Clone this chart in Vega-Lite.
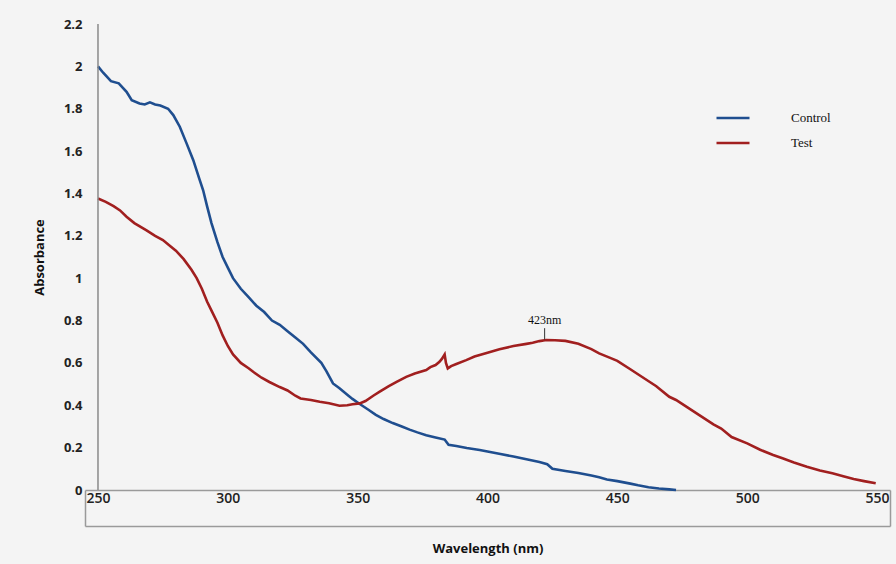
{
  "$schema": "https://vega.github.io/schema/vega-lite/v6.json",
  "width": 805,
  "height": 466,
  "autosize": {"type": "none"},
  "padding": {"left": 85, "top": 24, "right": 6, "bottom": 74},
  "background": "#f4f4f4",
  "config": {"view": {"stroke": null}},
  "datasets": {
    "curves": [
      {"wl": 250, "a": 2.0, "s": "Control"},
      {"wl": 252, "a": 1.97, "s": "Control"},
      {"wl": 255, "a": 1.93, "s": "Control"},
      {"wl": 258, "a": 1.92, "s": "Control"},
      {"wl": 261, "a": 1.88, "s": "Control"},
      {"wl": 263, "a": 1.84, "s": "Control"},
      {"wl": 266, "a": 1.825, "s": "Control"},
      {"wl": 268, "a": 1.82, "s": "Control"},
      {"wl": 270, "a": 1.83, "s": "Control"},
      {"wl": 272, "a": 1.82, "s": "Control"},
      {"wl": 274, "a": 1.815, "s": "Control"},
      {"wl": 277, "a": 1.8, "s": "Control"},
      {"wl": 279, "a": 1.77, "s": "Control"},
      {"wl": 281.5, "a": 1.715, "s": "Control"},
      {"wl": 284, "a": 1.64, "s": "Control"},
      {"wl": 286.7, "a": 1.557, "s": "Control"},
      {"wl": 289, "a": 1.47, "s": "Control"},
      {"wl": 290.5, "a": 1.415, "s": "Control"},
      {"wl": 292, "a": 1.34, "s": "Control"},
      {"wl": 293.7, "a": 1.26, "s": "Control"},
      {"wl": 296, "a": 1.17, "s": "Control"},
      {"wl": 298, "a": 1.1, "s": "Control"},
      {"wl": 300, "a": 1.05, "s": "Control"},
      {"wl": 302, "a": 1.0, "s": "Control"},
      {"wl": 305, "a": 0.95, "s": "Control"},
      {"wl": 308, "a": 0.91, "s": "Control"},
      {"wl": 311, "a": 0.87, "s": "Control"},
      {"wl": 314, "a": 0.84, "s": "Control"},
      {"wl": 317, "a": 0.8, "s": "Control"},
      {"wl": 320, "a": 0.78, "s": "Control"},
      {"wl": 323, "a": 0.75, "s": "Control"},
      {"wl": 326, "a": 0.72, "s": "Control"},
      {"wl": 329, "a": 0.69, "s": "Control"},
      {"wl": 332, "a": 0.65, "s": "Control"},
      {"wl": 336, "a": 0.6, "s": "Control"},
      {"wl": 338, "a": 0.56, "s": "Control"},
      {"wl": 340.5, "a": 0.503, "s": "Control"},
      {"wl": 343, "a": 0.48, "s": "Control"},
      {"wl": 346, "a": 0.45, "s": "Control"},
      {"wl": 348, "a": 0.43, "s": "Control"},
      {"wl": 350.8, "a": 0.406, "s": "Control"},
      {"wl": 354, "a": 0.38, "s": "Control"},
      {"wl": 357, "a": 0.355, "s": "Control"},
      {"wl": 360, "a": 0.335, "s": "Control"},
      {"wl": 363.5, "a": 0.316, "s": "Control"},
      {"wl": 367, "a": 0.3, "s": "Control"},
      {"wl": 370, "a": 0.285, "s": "Control"},
      {"wl": 373, "a": 0.272, "s": "Control"},
      {"wl": 376.4, "a": 0.259, "s": "Control"},
      {"wl": 380, "a": 0.248, "s": "Control"},
      {"wl": 383.5, "a": 0.238, "s": "Control"},
      {"wl": 385, "a": 0.213, "s": "Control"},
      {"wl": 388, "a": 0.208, "s": "Control"},
      {"wl": 392, "a": 0.198, "s": "Control"},
      {"wl": 397, "a": 0.189, "s": "Control"},
      {"wl": 400, "a": 0.182, "s": "Control"},
      {"wl": 405, "a": 0.17, "s": "Control"},
      {"wl": 410, "a": 0.158, "s": "Control"},
      {"wl": 415, "a": 0.145, "s": "Control"},
      {"wl": 420, "a": 0.132, "s": "Control"},
      {"wl": 423, "a": 0.122, "s": "Control"},
      {"wl": 425, "a": 0.1, "s": "Control"},
      {"wl": 430, "a": 0.09, "s": "Control"},
      {"wl": 435, "a": 0.08, "s": "Control"},
      {"wl": 440, "a": 0.068, "s": "Control"},
      {"wl": 443, "a": 0.06, "s": "Control"},
      {"wl": 446, "a": 0.05, "s": "Control"},
      {"wl": 450, "a": 0.042, "s": "Control"},
      {"wl": 455, "a": 0.03, "s": "Control"},
      {"wl": 458, "a": 0.022, "s": "Control"},
      {"wl": 462, "a": 0.013, "s": "Control"},
      {"wl": 466, "a": 0.007, "s": "Control"},
      {"wl": 470, "a": 0.003, "s": "Control"},
      {"wl": 472.6, "a": 0.0, "s": "Control"},
      {"wl": 250, "a": 1.376, "s": "Test"},
      {"wl": 253, "a": 1.36, "s": "Test"},
      {"wl": 256, "a": 1.34, "s": "Test"},
      {"wl": 258.5, "a": 1.32, "s": "Test"},
      {"wl": 261, "a": 1.29, "s": "Test"},
      {"wl": 264, "a": 1.26, "s": "Test"},
      {"wl": 268.7, "a": 1.226, "s": "Test"},
      {"wl": 272, "a": 1.2, "s": "Test"},
      {"wl": 275, "a": 1.18, "s": "Test"},
      {"wl": 278, "a": 1.15, "s": "Test"},
      {"wl": 280, "a": 1.13, "s": "Test"},
      {"wl": 283, "a": 1.09, "s": "Test"},
      {"wl": 286, "a": 1.04, "s": "Test"},
      {"wl": 288, "a": 1.0, "s": "Test"},
      {"wl": 290, "a": 0.95, "s": "Test"},
      {"wl": 292, "a": 0.89, "s": "Test"},
      {"wl": 294, "a": 0.84, "s": "Test"},
      {"wl": 296, "a": 0.79, "s": "Test"},
      {"wl": 298, "a": 0.73, "s": "Test"},
      {"wl": 300, "a": 0.68, "s": "Test"},
      {"wl": 302, "a": 0.64, "s": "Test"},
      {"wl": 305, "a": 0.6, "s": "Test"},
      {"wl": 308, "a": 0.575, "s": "Test"},
      {"wl": 310, "a": 0.556, "s": "Test"},
      {"wl": 313, "a": 0.53, "s": "Test"},
      {"wl": 316, "a": 0.51, "s": "Test"},
      {"wl": 320, "a": 0.486, "s": "Test"},
      {"wl": 323, "a": 0.47, "s": "Test"},
      {"wl": 326, "a": 0.445, "s": "Test"},
      {"wl": 328, "a": 0.432, "s": "Test"},
      {"wl": 332, "a": 0.425, "s": "Test"},
      {"wl": 335.4, "a": 0.417, "s": "Test"},
      {"wl": 339, "a": 0.41, "s": "Test"},
      {"wl": 343, "a": 0.398, "s": "Test"},
      {"wl": 346, "a": 0.4, "s": "Test"},
      {"wl": 348, "a": 0.405, "s": "Test"},
      {"wl": 350.8, "a": 0.409, "s": "Test"},
      {"wl": 353, "a": 0.42, "s": "Test"},
      {"wl": 356, "a": 0.445, "s": "Test"},
      {"wl": 358.5, "a": 0.464, "s": "Test"},
      {"wl": 362, "a": 0.49, "s": "Test"},
      {"wl": 365, "a": 0.51, "s": "Test"},
      {"wl": 368.7, "a": 0.534, "s": "Test"},
      {"wl": 372, "a": 0.55, "s": "Test"},
      {"wl": 376.4, "a": 0.566, "s": "Test"},
      {"wl": 378, "a": 0.58, "s": "Test"},
      {"wl": 380, "a": 0.59, "s": "Test"},
      {"wl": 381.5, "a": 0.605, "s": "Test"},
      {"wl": 382.5, "a": 0.62, "s": "Test"},
      {"wl": 383.5, "a": 0.64, "s": "Test"},
      {"wl": 384, "a": 0.6, "s": "Test"},
      {"wl": 384.7, "a": 0.574, "s": "Test"},
      {"wl": 386, "a": 0.585, "s": "Test"},
      {"wl": 388, "a": 0.595, "s": "Test"},
      {"wl": 391.8, "a": 0.613, "s": "Test"},
      {"wl": 395, "a": 0.63, "s": "Test"},
      {"wl": 400, "a": 0.648, "s": "Test"},
      {"wl": 404.6, "a": 0.664, "s": "Test"},
      {"wl": 410, "a": 0.68, "s": "Test"},
      {"wl": 415, "a": 0.69, "s": "Test"},
      {"wl": 417.4, "a": 0.695, "s": "Test"},
      {"wl": 420, "a": 0.703, "s": "Test"},
      {"wl": 422.6, "a": 0.708, "s": "Test"},
      {"wl": 426, "a": 0.707, "s": "Test"},
      {"wl": 430, "a": 0.704, "s": "Test"},
      {"wl": 435, "a": 0.69, "s": "Test"},
      {"wl": 440, "a": 0.665, "s": "Test"},
      {"wl": 443, "a": 0.645, "s": "Test"},
      {"wl": 447, "a": 0.625, "s": "Test"},
      {"wl": 450, "a": 0.61, "s": "Test"},
      {"wl": 455, "a": 0.57, "s": "Test"},
      {"wl": 460, "a": 0.53, "s": "Test"},
      {"wl": 465, "a": 0.49, "s": "Test"},
      {"wl": 470, "a": 0.44, "s": "Test"},
      {"wl": 472.6, "a": 0.425, "s": "Test"},
      {"wl": 477, "a": 0.39, "s": "Test"},
      {"wl": 482, "a": 0.35, "s": "Test"},
      {"wl": 487, "a": 0.31, "s": "Test"},
      {"wl": 490, "a": 0.29, "s": "Test"},
      {"wl": 494, "a": 0.25, "s": "Test"},
      {"wl": 500, "a": 0.22, "s": "Test"},
      {"wl": 505, "a": 0.19, "s": "Test"},
      {"wl": 510, "a": 0.165, "s": "Test"},
      {"wl": 513.6, "a": 0.15, "s": "Test"},
      {"wl": 518, "a": 0.13, "s": "Test"},
      {"wl": 523, "a": 0.11, "s": "Test"},
      {"wl": 528, "a": 0.092, "s": "Test"},
      {"wl": 532.8, "a": 0.079, "s": "Test"},
      {"wl": 537, "a": 0.065, "s": "Test"},
      {"wl": 541, "a": 0.052, "s": "Test"},
      {"wl": 545, "a": 0.042, "s": "Test"},
      {"wl": 549.5, "a": 0.032, "s": "Test"}
    ],
    "peak": [{"wl": 422, "a0": 0.71, "a1": 0.764, "label": "423nm"}],
    "yline": [{"wl": 250, "lo": 0, "hi": 2.2}]
  },
  "layer": [
    {
      "data": {"name": "curves"},
      "mark": {"type": "line", "strokeWidth": 2.6, "interpolate": "linear"},
      "encoding": {
        "x": {
          "field": "wl", "type": "quantitative",
          "scale": {"domain": [245, 555], "nice": false, "zero": false},
          "axis": {
            "values": [245, 250, 300, 350, 400, 450, 500, 550, 555],
            "labelExpr": "datum.value == 245 || datum.value == 555 ? '' : datum.label",
            "grid": false,
            "domainColor": "#9a9a9a",
            "domainWidth": 1.5,
            "tickColor": "#9a9a9a",
            "tickWidth": 1.5,
            "tickSize": 36,
            "tickOpacity": {"condition": {"test": "datum.value == 245 || datum.value == 555", "value": 1}, "value": 0},
            "labelFont": "Open Sans",
            "labelFontWeight": 600,
            "labelFontSize": 14,
            "labelColor": "#222",
            "labelPadding": -28,
            "labelBaseline": "middle",
            "labelFlush": false,
            "title": "Wavelength (nm)",
            "titleFont": "Open Sans",
            "titleFontWeight": "bold",
            "titleFontSize": 13,
            "titleColor": "#111",
            "titleBaseline": "middle",
            "titleY": 58
          }
        },
        "y": {
          "field": "a", "type": "quantitative",
          "scale": {"domain": [0, 2.2], "nice": false, "zero": false},
          "axis": {
            "values": [0, 0.2, 0.4, 0.6, 0.8, 1, 1.2, 1.4, 1.6, 1.8, 2, 2.2],
            "format": "~g",
            "domain": false,
            "ticks": false,
            "grid": false,
            "labelFont": "Open Sans",
            "labelFontWeight": "bold",
            "labelFontSize": 13,
            "labelColor": "#222",
            "labelPadding": 3,
            "title": "Absorbance",
            "titleFont": "Open Sans",
            "titleFontWeight": "bold",
            "titleFontSize": 13,
            "titleColor": "#111",
            "titleX": -39,
            "titleY": 233,
            "titleBaseline": "bottom"
          }
        },
        "color": {
          "field": "s", "type": "nominal",
          "scale": {"domain": ["Control", "Test"], "range": ["#1f4e8f", "#a11f1f"]},
          "legend": {
            "orient": "none",
            "legendX": 630,
            "legendY": 76,
            "title": null,
            "padding": 0,
            "symbolType": "stroke",
            "symbolSize": 1089,
            "symbolStrokeWidth": 2.5,
            "labelFont": "Liberation Serif",
            "labelFontSize": 13,
            "labelColor": "#111",
            "labelOffset": 40,
            "rowPadding": -7
          }
        }
      }
    },
    {
      "data": {"name": "yline"},
      "mark": {"type": "rule", "color": "#8a8a8a", "strokeWidth": 1.5},
      "encoding": {
        "x": {
          "field": "wl", "type": "quantitative",
          "axis": {"orient": "bottom", "offset": 36, "labels": false, "ticks": false, "grid": false, "domainColor": "#9a9a9a", "domainWidth": 1.5, "title": null}
        },
        "y": {"field": "lo", "type": "quantitative"},
        "y2": {"field": "hi"}
      }
    },
    {
      "data": {"name": "peak"},
      "mark": {"type": "rule", "color": "#333", "strokeWidth": 1},
      "encoding": {
        "x": {"field": "wl", "type": "quantitative", "axis": null},
        "y": {"field": "a0", "type": "quantitative"},
        "y2": {"field": "a1"}
      }
    },
    {
      "data": {"name": "peak"},
      "mark": {"type": "text", "font": "Liberation Serif", "fontSize": 12, "baseline": "bottom", "align": "center", "color": "#111", "dy": -1},
      "encoding": {
        "x": {"field": "wl", "type": "quantitative", "axis": null},
        "y": {"field": "a1", "type": "quantitative"},
        "text": {"field": "label"}
      }
    }
  ],
  "resolve": {"axis": {"x": "independent"}}
}
